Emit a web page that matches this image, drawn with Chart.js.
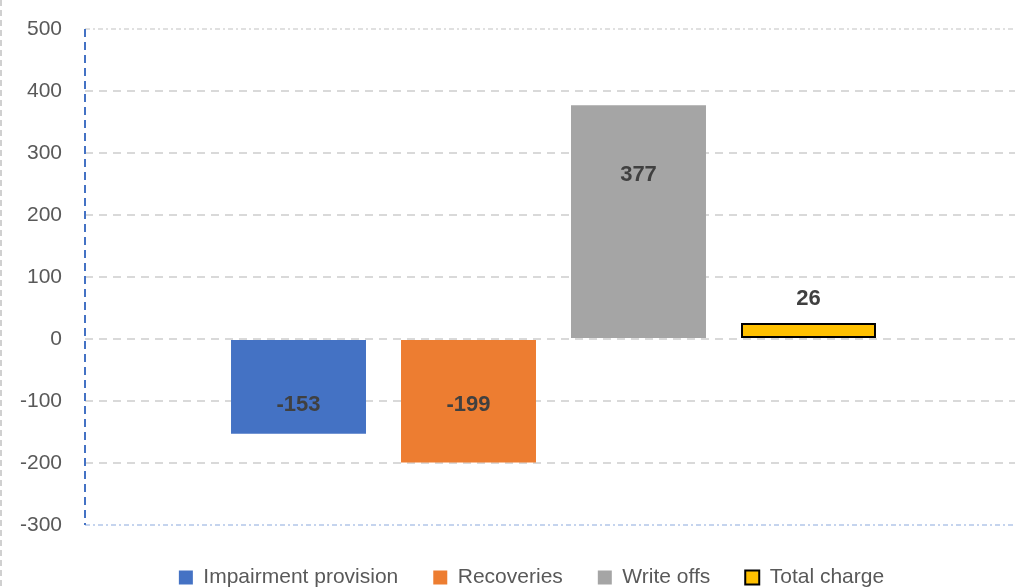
<!DOCTYPE html>
<html>
<head>
<meta charset="utf-8">
<script src="https://cdn.jsdelivr.net/npm/chart.js@4.4.1/dist/chart.umd.min.js"></script>
<style>
  body { margin: 0; background: #fff; overflow: hidden; }
  #wrap { width: 1015px; height: 588px; overflow: hidden; position: relative; }
  canvas { position: absolute; left: 0; top: 0; }
</style>
</head>
<body>
<div id="wrap"><canvas id="myChart" width="1022" height="588"></canvas></div>
<script>
// Datos del grafico
const seriesNames = ['Impairment provision', 'Recoveries', 'Write offs', 'Total charge'];
const seriesValues = [-153, -199, 377, 26];
const seriesColors = ['#4472c4', '#ed7d31', '#a5a5a5', '#ffc000'];
const yMin = -300;
const yMax = 500;
const yStep = 100;

const ctx = document.getElementById('myChart').getContext('2d');
Chart.defaults.font.family = '"Liberation Sans", Arial, sans-serif';

// Lineas especiales: eje vertical azul, linea superior e inferior, borde izquierdo
const axisLines = {
    id: 'axisLines',
    afterLayout(chart) {
        // mover la leyenda un poco a la derecha
        chart.legend.left += 41;
    },
    beforeDatasetsDraw(chart) {
        const { ctx, chartArea: a, scales: { y } } = chart;
        ctx.save();
        ctx.lineWidth = 2;
        ctx.strokeStyle = '#e0e0e0';
        ctx.setLineDash([5, 3, 2, 3]);
        ctx.beginPath();
        ctx.moveTo(a.left, y.getPixelForValue(yMax));
        ctx.lineTo(a.right, y.getPixelForValue(yMax));
        ctx.stroke();
        ctx.strokeStyle = '#c5d4ee';
        ctx.beginPath();
        ctx.moveTo(a.left, y.getPixelForValue(yMin));
        ctx.lineTo(a.right, y.getPixelForValue(yMin));
        ctx.stroke();
        ctx.restore();
    },
    afterDraw(chart) {
        const { ctx, chartArea: a } = chart;
        ctx.save();
        ctx.lineWidth = 2;
        ctx.strokeStyle = '#4472c4';
        ctx.setLineDash([8, 5]);
        ctx.beginPath();
        ctx.moveTo(a.left, a.top);
        ctx.lineTo(a.left, a.bottom);
        ctx.stroke();
        ctx.strokeStyle = '#d0d0d0';
        ctx.setLineDash([6, 4]);
        ctx.beginPath();
        ctx.moveTo(1, 0);
        ctx.lineTo(1, chart.height);
        ctx.stroke();
        ctx.restore();
    }
};

// Etiquetas de valor dentro (o encima) de cada barra
const valueLabels = {
    id: 'valueLabels',
    afterDatasetsDraw(chart) {
        const { ctx, scales: { y } } = chart;
        ctx.save();
        ctx.font = 'bold 22px "Liberation Sans", Arial, sans-serif';
        ctx.fillStyle = '#404040';
        ctx.textAlign = 'center';
        ctx.textBaseline = 'middle';
        chart.data.datasets.forEach((ds, i) => {
            const bar = chart.getDatasetMeta(i).data[0];
            const v = ds.data[0];
            let py;
            if (Math.abs(bar.y - bar.base) < 40) {
                py = bar.y - 24; // barra corta: etiqueta por encima
            } else {
                let anchor = v * 0.7;
                if (v < 0) anchor = Math.max(anchor, -106);
                py = y.getPixelForValue(anchor);
            }
            ctx.fillText(String(v), bar.x, py);
        });
        ctx.restore();
    }
};

const myChart = new Chart(ctx, {
    type: 'bar',
    data: {
        labels: [''],
        datasets: seriesNames.map((name, i) => ({
            label: name,
            data: [seriesValues[i]],
            backgroundColor: seriesColors[i],
            borderColor: i === 3 ? '#000000' : seriesColors[i],
            borderWidth: i === 3 ? 2 : 0,
            borderSkipped: false,
            categoryPercentage: 0.7257,
            barPercentage: 0.794
        }))
    },
    options: {
        responsive: false,
        animation: false,
        devicePixelRatio: 1,
        layout: { padding: { left: 0, top: 29, right: 0, bottom: -10 } },
        scales: {
            x: {
                grid: { display: false },
                border: { display: false },
                ticks: { display: false },
                afterFit: (scale) => { scale.height = 7; }
            },
            y: {
                min: yMin,
                max: yMax,
                afterFit: (scale) => {
                    scale.width = 85;
                    scale.paddingTop = 0;
                    scale.paddingBottom = 0;
                },
                ticks: {
                    stepSize: yStep,
                    padding: 23,
                    color: '#595959',
                    font: { size: 21 }
                },
                grid: {
                    drawTicks: false,
                    lineWidth: 2,
                    color: (c) => (c.tick && (c.tick.value === yMax || c.tick.value === yMin)) ? 'rgba(0,0,0,0)' : '#d9d9d9'
                },
                border: { display: false, dash: [8, 6] }
            }
        },
        plugins: {
            legend: {
                position: 'bottom',
                labels: {
                    boxWidth: 14,
                    boxHeight: 14,
                    padding: 35,
                    color: '#595959',
                    font: { size: 21 }
                }
            },
            tooltip: { enabled: false }
        }
    },
    plugins: [axisLines, valueLabels]
});
</script>
</body>
</html>
